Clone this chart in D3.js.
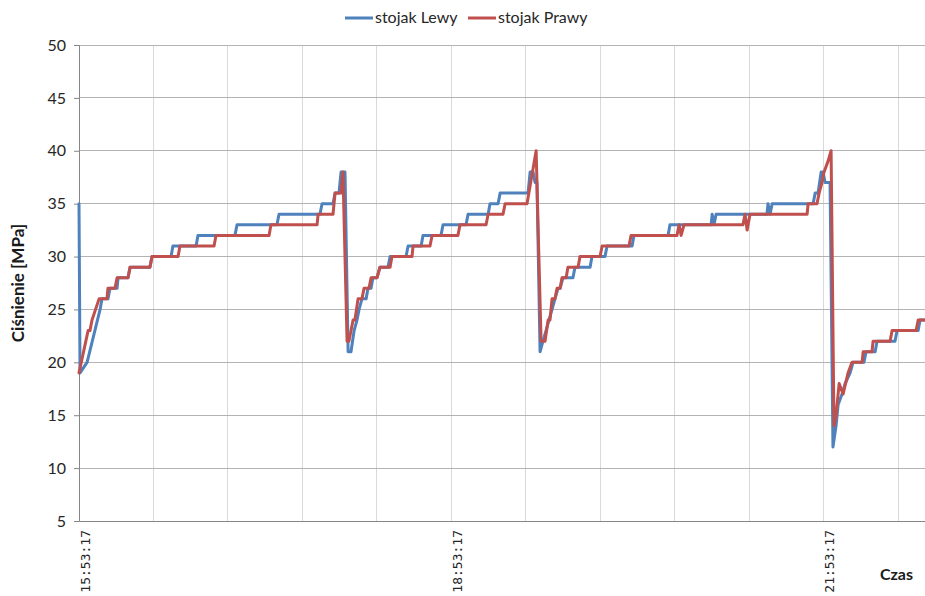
<!DOCTYPE html>
<html>
<head>
<meta charset="utf-8">
<script src="https://cdn.jsdelivr.net/npm/d3@7"></script>
<style>
  html, body { margin: 0; padding: 0; background: #fff; }
  svg { display: block; }
</style>
</head>
<body>
<svg id="chart" width="925" height="596"></svg>
<script>
// ---- data (minutes elapsed since 15:53:17, pressure in MPa) ----
const startTime = "15:53:17";
const seriesNames = ["stojak Lewy", "stojak Prawy"];
const seriesColors = ["#4F81BD", "#C0504D"];
const yTicks = [5, 10, 15, 20, 25, 30, 35, 40, 45, 50];
const xTickMinutes = [0, 36, 72, 108, 144, 180, 216, 252, 288, 324, 360, 396];
const xLabelMinutes = [0, 180, 360];

const lewyMin = [0, 0.5, 3.9, 10.2, 11.1, 14.0, 15.0, 18.4, 18.9, 23.7, 24.7, 34.3, 35.3, 44.5, 45.4, 56.6, 57.5, 75.4, 76.4, 95.7, 96.7, 116.5, 117.5, 122.8, 123.8, 125.7, 126.7, 128.6, 130.1,
  131.5, 133.0, 134.4, 135.4, 136.8, 138.8, 139.7, 141.2, 142.1, 144.1, 145.5, 149.4, 150.4, 158.1, 159.1, 165.4, 166.3, 175.0, 176.0, 187.1, 188.1, 197.8, 198.7, 202.6, 203.6, 217.1, 218.1, 219.5, 220.5, 221.4, 222.9,
  224.3, 225.8, 227.2, 228.7, 230.1, 231.6, 232.6, 234.0, 238.8, 239.8, 247.1, 248.0, 254.3, 255.3, 267.4, 268.3, 284.8, 285.7, 305.6, 306.1, 307.0, 308.0, 332.6, 333.1, 334.1, 335.1, 354.9, 355.9, 357.3, 358.8, 359.7, 360.7, 363.1, 364.5,
  366.0, 367.0, 368.9, 370.4, 372.8, 374.2, 379.5, 380.5, 384.9, 385.8, 394.5, 395.5, 405.7, 406.6, 409.0];
const lewyVal = [35, 19, 20, 25, 26, 26, 27, 27, 28, 28, 29, 29, 30, 30, 31, 31, 32, 32, 33, 33, 34, 34, 35, 35, 36, 36, 38, 38, 21,
  21, 23, 24, 25, 26, 26, 27, 27, 28, 28, 29, 29, 30, 30, 31, 31, 32, 32, 33, 33, 34, 34, 35, 35, 36, 36, 38, 38, 37, 37, 21,
  22, 23, 24, 25, 26, 27, 27, 28, 28, 29, 29, 30, 30, 31, 31, 32, 32, 33, 33, 34, 33, 34, 34, 35, 34, 35, 35, 36, 36, 38, 38, 37, 37, 12,
  14, 16, 17, 18, 19, 20, 20, 21, 21, 22, 22, 23, 23, 24, 24];

const prawyMin = [0, 4.4, 5.3, 6.3, 9.7, 13.5, 14.0, 17.4, 18.4, 23.7, 24.7, 34.3, 35.3, 47.9, 48.8, 65.3, 66.2, 91.9, 92.8, 115.1, 115.6, 122.8, 123.8, 126.7, 127.6, 129.6,
  130.5, 132.5, 133.4, 134.9, 136.8, 137.8, 140.2, 141.2, 144.1, 145.5, 150.4, 151.3, 161.0, 161.5, 169.7, 170.7, 183.2, 184.2, 196.8, 197.8, 205.0, 206.0, 216.6, 221.0, 223.4,
  225.3, 226.8, 227.7, 228.7, 230.1, 231.1, 232.6, 233.5, 235.5, 236.4, 241.3, 242.2, 251.9, 252.9, 265.9, 266.9, 289.1, 290.1, 291.1, 292.5, 321.0, 322.0, 323.0, 324.4, 352.0, 352.5, 356.8, 357.8, 359.2, 360.2, 362.1, 363.6, 365.0,
  366.0, 367.5, 369.4, 371.8, 373.7, 378.6, 379.1, 383.4, 383.9, 392.1, 393.1, 404.7, 405.7, 409.0];
const prawyVal = [19, 23, 23, 24, 26, 26, 27, 27, 28, 28, 29, 29, 30, 30, 31, 31, 32, 32, 33, 33, 34, 34, 36, 36, 38, 22,
  22, 24, 24, 26, 26, 27, 27, 28, 28, 29, 29, 30, 30, 31, 31, 32, 32, 33, 33, 34, 34, 35, 35, 40, 22,
  22, 24, 24, 26, 26, 27, 27, 28, 28, 29, 29, 30, 30, 31, 31, 32, 32, 33, 32, 33, 33, 34, 32.5, 34, 34, 35, 35, 36, 37, 38, 39, 40, 14,
  15, 18, 17, 19, 20, 20, 21, 21, 22, 22, 23, 23, 24, 24];

// ---- layout ----
const svg = d3.select("#chart");
const mLeft = 79, mRight = 925, mTop = 45, mBottom = 521;
const x = d3.scaleLinear().domain([0, 409]).range([mLeft, mRight]);
const y = d3.scaleLinear().domain([5, 50]).range([mBottom, mTop]);

const parseT = d3.timeParse("%H:%M:%S");
const fmtT = d3.timeFormat("%H:%M:%S");
const base = parseT(startTime);
const labelFor = m => fmtT(new Date(base.getTime() + m * 60000));

const uiFont = "Lato, 'Open Sans', sans-serif";

// vertical gridlines
svg.append("g").selectAll("line")
  .data(xTickMinutes.filter(d => d > 0))
  .join("line")
  .attr("x1", d => x(d)).attr("x2", d => x(d))
  .attr("y1", mTop).attr("y2", mBottom)
  .attr("stroke", "#d9d9d9").attr("stroke-width", 1)
  .attr("shape-rendering", "crispEdges");

// horizontal gridlines
svg.append("g").selectAll("line")
  .data(yTicks.filter(d => d > 5))
  .join("line")
  .attr("x1", mLeft).attr("x2", mRight)
  .attr("y1", d => y(d)).attr("y2", d => y(d))
  .attr("stroke", "#b3b3b3").attr("stroke-width", 1)
  .attr("shape-rendering", "crispEdges");

// y axis
const yAxis = svg.append("g")
  .attr("transform", `translate(${mLeft},0)`)
  .call(d3.axisLeft(y).tickValues(yTicks).tickSize(5).tickPadding(8));
yAxis.select(".domain").attr("stroke", "#868686");
yAxis.selectAll(".tick line").attr("stroke", "#868686");
yAxis.selectAll("text")
  .attr("font-family", uiFont).attr("font-size", 16).attr("fill", "#262626");

// x axis
const xAxis = svg.append("g")
  .attr("transform", `translate(0,${mBottom})`)
  .call(d3.axisBottom(x).tickValues(xTickMinutes).tickSize(0).tickFormat(""));
xAxis.select(".domain").attr("stroke", "#868686");

svg.append("g").selectAll("text")
  .data(xLabelMinutes)
  .join("text")
  .attr("transform", d => `translate(${x(d) + 6},530) rotate(-90)`)
  .attr("text-anchor", "end")
  .attr("dy", "0.35em")
  .attr("font-family", "'DejaVu Sans Mono', monospace")
  .attr("font-size", 13)
  .attr("fill", "#262626")
  .text(d => labelFor(d));

// axis titles
svg.append("text")
  .attr("transform", "translate(24,283) rotate(-90)")
  .attr("text-anchor", "middle")
  .attr("font-family", uiFont).attr("font-weight", "bold").attr("font-size", 17)
  .attr("fill", "#1a1a1a")
  .text("Ciśnienie [MPa]");

svg.append("text")
  .attr("x", 913).attr("y", 580)
  .attr("text-anchor", "end")
  .attr("font-family", uiFont).attr("font-weight", "bold").attr("font-size", 16)
  .attr("fill", "#1a1a1a")
  .text("Czas");

// series
const series = [
  { name: seriesNames[0], color: seriesColors[0], pts: lewyMin.map((m, i) => [m, lewyVal[i]]) },
  { name: seriesNames[1], color: seriesColors[1], pts: prawyMin.map((m, i) => [m, prawyVal[i]]) }
];
const line = d3.line().x(d => x(d[0])).y(d => y(d[1]));

svg.append("defs").append("clipPath").attr("id", "clip")
  .append("rect").attr("x", mLeft - 3).attr("y", 0).attr("width", mRight - mLeft + 8).attr("height", mBottom);

svg.append("g").attr("clip-path", "url(#clip)")
  .selectAll("path")
  .data(series)
  .join("path")
  .attr("d", d => line(d.pts))
  .attr("fill", "none")
  .attr("stroke", d => d.color)
  .attr("stroke-width", 3)
  .attr("stroke-linejoin", "round")
  .attr("stroke-linecap", "round");

// legend
const legendPos = [345, 468];
const lg = svg.append("g").selectAll("g").data(series).join("g")
  .attr("transform", (d, i) => `translate(${legendPos[i]},18)`);
lg.append("line").attr("x1", 0).attr("x2", 28).attr("y1", 0).attr("y2", 0)
  .attr("stroke", d => d.color).attr("stroke-width", 3);
lg.append("text").attr("x", 30).attr("y", 5)
  .attr("font-family", uiFont).attr("font-size", 16).attr("fill", "#262626")
  .text(d => d.name);
</script>
</body>
</html>
